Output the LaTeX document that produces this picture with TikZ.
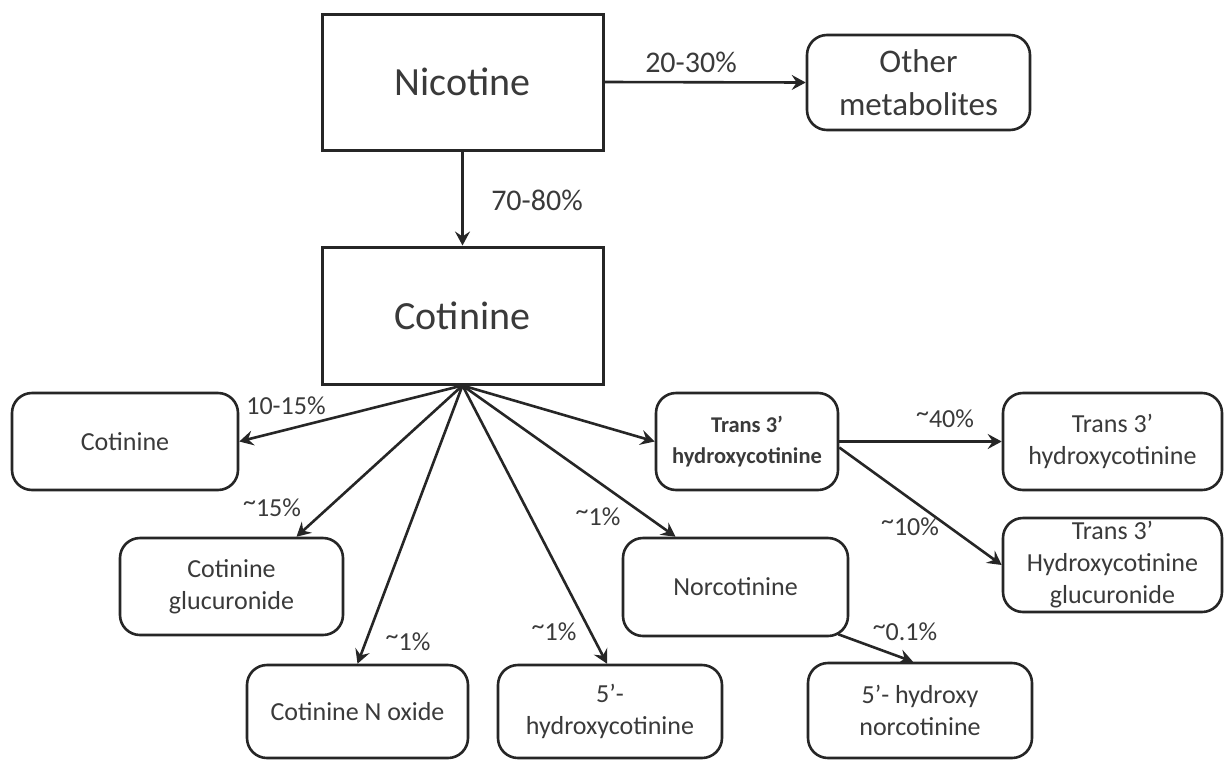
\documentclass[tikz,border=0pt]{standalone}
\usepackage{fontspec}
\setmainfont{Carlito}
\usetikzlibrary{arrows.meta,calc}
\definecolor{txt}{HTML}{3A3A3A}
\definecolor{ln}{HTML}{262626}
\newcommand\mytilde{\raisebox{0.25em}{\textasciitilde}}
\begin{document}
\begin{tikzpicture}[x=1pt,y=-1pt,
  sharpbox/.style={draw=ln,line width=3pt,inner sep=0pt,align=center,text=txt,font=\fontsize{40}{46}\selectfont},
  rbox/.style={draw=ln,line width=2.6pt,rounded corners=20pt,inner sep=0pt,align=center,text=txt,font=\fontsize{26}{32}\selectfont},
  lbl/.style={text=txt,inner sep=0pt,font=\fontsize{26}{30}\selectfont},
  biglbl/.style={text=txt,inner sep=0pt,font=\fontsize{30}{34}\selectfont},
  arr/.style={draw=ln,line width=2.6pt,-{Stealth[length=14pt,width=15pt,inset=5pt]}},
]
\useasboundingbox (0,0) rectangle (1227,761);
\fill[white] (0,0) rectangle (1227,761);

% nodes
\node[sharpbox,minimum width=281pt,minimum height=136pt] (nic) at (462.5,82) {Nicotine};
\node[rbox,minimum width=223pt,minimum height=95pt,font=\fontsize{33}{43}\selectfont] (oth) at (918.5,82.5) {Other\\metabolites};
\node[sharpbox,minimum width=281pt,minimum height=137pt] (cot) at (462.5,315.5) {Cotinine};

\node[rbox,minimum width=226pt,minimum height=97pt] (cotL) at (125,441.5) {Cotinine};
\node[rbox,minimum width=223pt,minimum height=97pt] (glu) at (231.5,586.5) {Cotinine\\glucuronide};
\node[rbox,minimum width=221pt,minimum height=93pt] (nox) at (357.5,711.5) {Cotinine N oxide};
\node[rbox,minimum width=224pt,minimum height=93pt] (h5) at (610,711.5) {5’-\\hydroxycotinine};
\node[rbox,minimum width=225pt,minimum height=98pt] (nor) at (735.5,587) {Norcotinine};
\node[rbox,minimum width=182pt,minimum height=97pt,font=\fontsize{22.5}{31}\selectfont\bfseries] (t3b) at (747,441.5) {Trans 3’\\hydroxycotinine};
\node[rbox,minimum width=219pt,minimum height=97pt] (t3r) at (1112.5,441.5) {Trans 3’\\hydroxycotinine};
\node[rbox,minimum width=219pt,minimum height=94pt] (t3g) at (1112.5,565) {Trans 3’\\Hydroxycotinine\\glucuronide};
\node[rbox,minimum width=224pt,minimum height=95pt] (h5n) at (920,710.5) {5’- hydroxy\\norcotinine};

% connectors
\draw[arr] (nic.east) -- (oth.west);
\draw[arr] (nic.south) -- (cot.north);
\draw[arr] (cot.south) -- (cotL.east);
\draw[arr] (cot.south) -- ($(glu.north)+(65,0)$);
\draw[arr] (cot.south) -- (nox.north);
\draw[arr] (cot.south) -- ($(h5.north)+(-3,0)$);
\draw[arr] (cot.south) -- ($(nor.north)+(-60,0)$);
\draw[arr] (cot.south) -- (t3b.west);
\draw[arr] (t3b.east) -- (t3r.west);
\draw[arr] ($(t3b.east)+(0,6)$) -- (t3g.west);
\draw[arr] ($(nor.south east)+(-11,-3)$) -- ($(h5n.north)+(-7,0)$);

% labels
\node[biglbl] (l1) at (691,62) {20-30\%};
\node[biglbl] (l2) at (537,200) {70-80\%};
\node[lbl] (l3) at (286,406) {10-15\%};
\node[lbl] (l4) at (272,508) {\mytilde15\%};
\node[lbl] (l5) at (408,642) {\mytilde1\%};
\node[lbl] (l6) at (554,632) {\mytilde1\%};
\node[lbl] (l7) at (598,517) {\mytilde1\%};
\node[lbl] (l8) at (945,419) {\mytilde40\%};
\node[lbl] (l9) at (910,527) {\mytilde10\%};
\node[lbl] (l10) at (905,632) {\mytilde0.1\%};
\end{tikzpicture}
\end{document}
